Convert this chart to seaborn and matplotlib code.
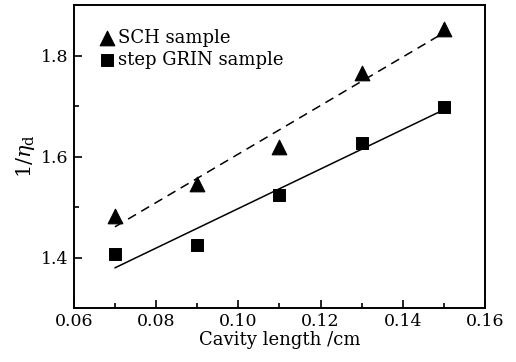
import numpy as np
import pandas as pd
import matplotlib
matplotlib.use("Agg")
import matplotlib.pyplot as plt
import seaborn as sns
from matplotlib.ticker import MultipleLocator

# data
cavity_len = [0.07, 0.09, 0.11, 0.13, 0.15]
sch = [1.482, 1.546, 1.619, 1.765, 1.853]
grin = [1.408, 1.425, 1.523, 1.626, 1.699]

sns.set_style("ticks", {"axes.edgecolor": "black", "text.color": "black",
                        "axes.labelcolor": "black", "xtick.color": "black",
                        "ytick.color": "black"})
plt.rcParams['font.family'] = ['DejaVu Serif']
plt.rcParams['mathtext.fontset'] = 'dejavuserif'

df_sch = pd.DataFrame({"x": cavity_len, "y": sch})
df_grin = pd.DataFrame({"x": cavity_len, "y": grin})

fig, ax = plt.subplots(figsize=(5.16, 3.62), dpi=100)

# fitted lines
sns.regplot(data=df_sch, x="x", y="y", scatter=False, ci=None, ax=ax,
            line_kws=dict(color="black", lw=1.1, ls=(0, (6, 4))))
sns.regplot(data=df_grin, x="x", y="y", scatter=False, ci=None, ax=ax,
            line_kws=dict(color="black", lw=1.1))

sns.scatterplot(data=df_sch, x="x", y="y", marker="^", s=110, color="black",
                edgecolor="black", ax=ax, label="SCH sample", zorder=3)
sns.scatterplot(data=df_grin, x="x", y="y", marker="s", s=75, color="black",
                edgecolor="black", ax=ax, label="step GRIN sample", zorder=3)

ax.set_xlim(0.06, 0.16)
ax.set_ylim(1.3, 1.9)
ax.xaxis.set_major_locator(MultipleLocator(0.02))
ax.xaxis.set_minor_locator(MultipleLocator(0.01))
ax.yaxis.set_major_locator(MultipleLocator(0.2))
ax.yaxis.set_minor_locator(MultipleLocator(0.1))
ax.xaxis.set_major_formatter(plt.FormatStrFormatter('%.2f'))
ax.yaxis.set_major_formatter(plt.FormatStrFormatter('%.1f'))
ax.tick_params(which="both", direction="in", labelsize=12.5, width=1.2,
               color="black", labelcolor="black")
ax.tick_params(which="major", length=6)
ax.tick_params(which="minor", length=3.5)
for sp in ax.spines.values():
    sp.set_linewidth(1.4)
    sp.set_color("black")
    sp.set_visible(True)

ax.set_xlabel("Cavity length /cm", fontsize=13, labelpad=1, color="black")
ax.set_ylabel(r"$1/\eta_{\rm d}$", fontsize=15, labelpad=3, color="black")

leg = ax.legend(loc="upper left", frameon=False, fontsize=13, handletextpad=0.0,
                labelspacing=0.2, borderaxespad=0.6, handlelength=1.2,
                bbox_to_anchor=(0.01, 0.98))
for t in leg.get_texts():
    t.set_color("black")

plt.subplots_adjust(left=0.143, right=0.94, bottom=0.149, top=0.986)
plt.savefig("out.png", dpi=100)
